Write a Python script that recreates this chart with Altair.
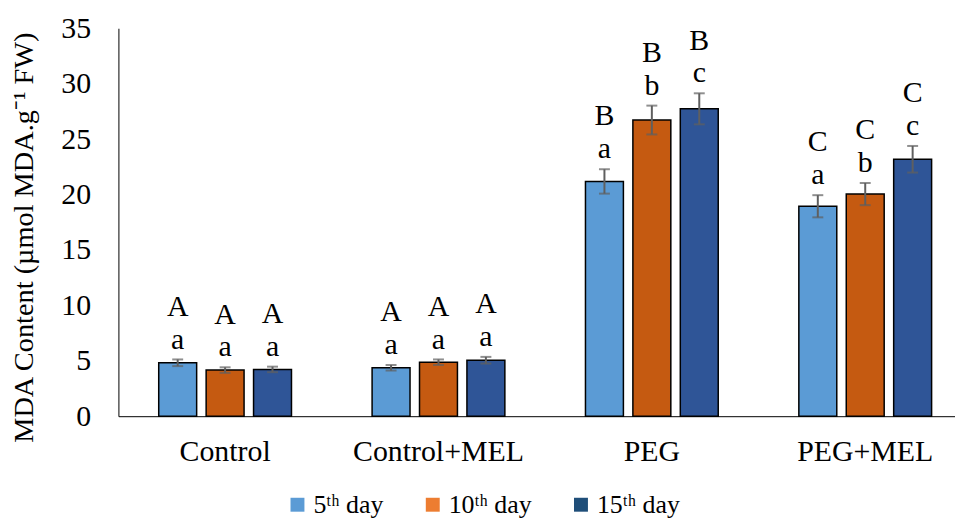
import altair as alt
import pandas as pd

groups = ["Control", "Control+MEL", "PEG", "PEG+MEL"]
days = ["5ᵗʰ day", "10ᵗʰ day", "15ᵗʰ day"]

v5 = [4.82, 4.37, 21.18, 18.94]
v10 = [4.16, 4.87, 26.72, 20.04]
v15 = [4.22, 5.05, 27.73, 23.18]

e5 = [0.3, 0.25, 1.1, 1.0]
e10 = [0.25, 0.25, 1.3, 1.0]
e15 = [0.25, 0.3, 1.4, 1.2]

low5 = ["a", "a", "a", "a"]
low10 = ["a", "a", "b", "b"]
low15 = ["a", "a", "c", "c"]
up5 = ["A", "A", "B", "C"]
up10 = ["A", "A", "B", "C"]
up15 = ["A", "A", "B", "C"]

bar_colors = ["#5B9BD5", "#C55A11", "#2F5597"]
legend_colors = ["#5B9BD5", "#ED7D31", "#1F4E79"]

rows = []
for d, vals, errs, lows, ups in zip(days, [v5, v10, v15], [e5, e10, e15],
                                    [low5, low10, low15], [up5, up10, up15]):
    for g, v, e, lo, up in zip(groups, vals, errs, lows, ups):
        rows.append({"group": g, "day": d, "series": d, "value": v,
                     "lo": v - e, "hi": v + e, "low": lo, "up": up})
df = pd.DataFrame(rows)

FONT = "Liberation Serif"

base = alt.Chart(df).encode(
    x=alt.X("group:N", sort=groups,
            scale=alt.Scale(range=[0, 858], paddingInner=0, paddingOuter=0),
            axis=alt.Axis(title=None, labelAngle=0, ticks=False, tickSize=0,
                          labelPadding=21, labelFontSize=30, labelFont=FONT,
                          labelColor="black", domainColor="black", domainWidth=1,
                          labelLimit=0)),
    xOffset=alt.XOffset("day:N", sort=days,
                        scale=alt.Scale(paddingInner=0.2, paddingOuter=0.85)),
)

yaxis = alt.Axis(values=[0, 5, 10, 15, 20, 25, 30, 35], grid=False, ticks=False,
                 tickSize=0, labelPadding=28, labelFontSize=30, labelFont=FONT,
                 labelColor="black", domainColor="black", domainWidth=1,
                 title="MDA Content (µmol MDA.g⁻¹ FW)", titleFontSize=28.5,
                 titleFont=FONT, titleFontWeight="normal", titleColor="black",
                 titleAngle=270, titleBaseline="alphabetic", titleX=-86, titleY=210)

legend_layer = base.mark_square(size=10).encode(
    y="value:Q",
    fill=alt.Fill("series:N", sort=days,
                  scale=alt.Scale(domain=days, range=legend_colors),
                  legend=alt.Legend(title=None, orient="none", legendX=167,
                                    legendY=466, direction="horizontal",
                                    symbolType="square", symbolSize=196,
                                    symbolStrokeWidth=0,
                                    labelFontSize=26, labelFont=FONT,
                                    labelColor="black", labelOffset=3,
                                    columnPadding=36)),
    opacity=alt.value(0),
)

bars = base.mark_bar(stroke="black", strokeWidth=1.5).encode(
    y=alt.Y("value:Q", scale=alt.Scale(domain=[0, 35], nice=False), axis=yaxis),
    color=alt.Color("day:N", sort=days,
                    scale=alt.Scale(domain=days, range=bar_colors), legend=None),
)

rules = base.mark_rule(color="#5f5f5f", strokeWidth=2).encode(
    y="lo:Q", y2="hi:Q")
tick_lo = base.mark_tick(color="#5f5f5f", thickness=2, size=11,
                         orient="horizontal").encode(y="lo:Q")
tick_hi = base.mark_tick(color="#5f5f5f", thickness=2, size=11,
                         orient="horizontal").encode(y="hi:Q")

txt_low = base.mark_text(fontSize=30, font=FONT, baseline="middle", dy=-20,
                         color="black").encode(y="hi:Q", text="low:N")
txt_up = base.mark_text(fontSize=30, font=FONT, baseline="middle", dy=-53,
                        color="black").encode(y="hi:Q", text="up:N")

chart = alt.layer(legend_layer, bars, rules, tick_lo, tick_hi, txt_low, txt_up).properties(
    width=841, height=390,
    autosize=alt.AutoSizeParams(type="none"),
    padding={"left": 111, "top": 19, "right": 0, "bottom": 103},
).configure_view(stroke=None).configure_legend(
    labelFont=FONT, labelFontSize=26, labelColor="black"
)

chart.save("out.html", embed_options={"renderer": "svg", "actions": False})
